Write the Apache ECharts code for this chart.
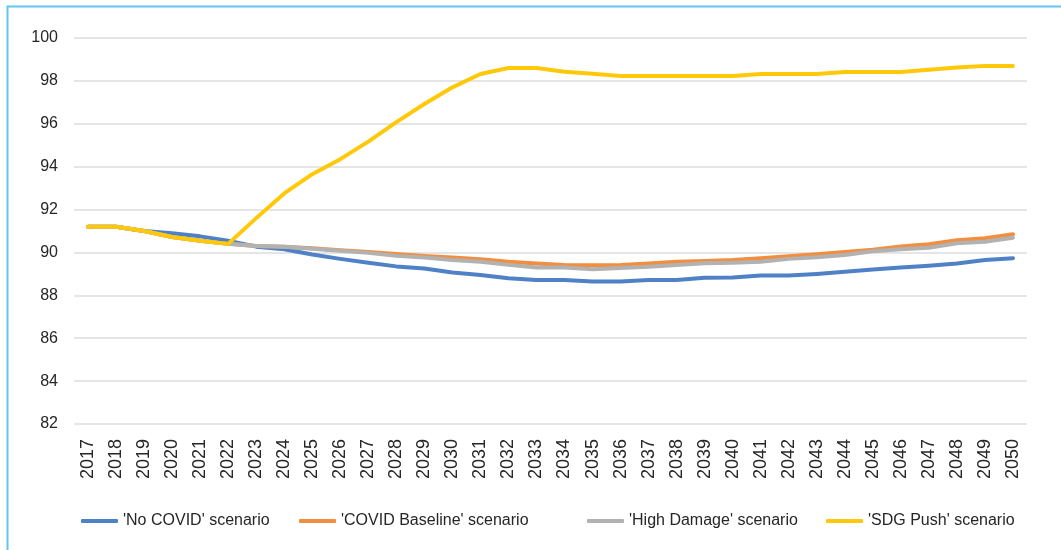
<!DOCTYPE html>
<html>
<head>
<meta charset="utf-8">
<script src="https://cdn.jsdelivr.net/npm/echarts@6/dist/echarts.min.js"></script>
<style>
  html, body { margin: 0; padding: 0; background: #fff; }
  #chart { width: 1061px; height: 550px; }
</style>
</head>
<body>
<div id="chart"></div>
<script>
var years = ['2017', '2018', '2019', '2020', '2021', '2022', '2023', '2024', '2025', '2026',
  '2027', '2028', '2029', '2030', '2031', '2032', '2033', '2034', '2035', '2036',
  '2037', '2038', '2039', '2040', '2041', '2042', '2043', '2044', '2045', '2046',
  '2047', '2048', '2049', '2050'];

var noCovid = [91.2, 91.2, 91.0, 90.9, 90.75, 90.55, 90.27, 90.15, 89.9, 89.7,
  89.52, 89.35, 89.25, 89.06, 88.95, 88.8, 88.72, 88.72, 88.64, 88.64,
  88.72, 88.72, 88.82, 88.83, 88.92, 88.92, 89.0, 89.1, 89.2, 89.3,
  89.38, 89.48, 89.65, 89.73];

var covidBaseline = [91.2, 91.2, 91.0, 90.72, 90.55, 90.4, 90.3, 90.27, 90.19, 90.1,
  90.02, 89.93, 89.84, 89.76, 89.68, 89.57, 89.49, 89.42, 89.4, 89.42,
  89.49, 89.57, 89.6, 89.65, 89.73, 89.82, 89.92, 90.02, 90.13, 90.28,
  90.38, 90.57, 90.66, 90.85];

var highDamage = [91.2, 91.2, 91.0, 90.72, 90.55, 90.4, 90.3, 90.27, 90.17, 90.08,
  89.98, 89.84, 89.76, 89.65, 89.57, 89.42, 89.3, 89.3, 89.22, 89.28,
  89.33, 89.42, 89.5, 89.52, 89.57, 89.7, 89.78, 89.88, 90.06, 90.15,
  90.22, 90.43, 90.5, 90.69];

var sdgPush = [91.2, 91.2, 91.0, 90.72, 90.55, 90.4, 91.6, 92.75, 93.65, 94.35,
  95.17, 96.08, 96.92, 97.7, 98.32, 98.6, 98.6, 98.43, 98.33, 98.23,
  98.23, 98.23, 98.23, 98.23, 98.32, 98.32, 98.32, 98.42, 98.42, 98.42,
  98.52, 98.62, 98.7, 98.7];

var names = ["'No COVID' scenario", "'COVID Baseline' scenario", "'High Damage' scenario", "'SDG Push' scenario"];
var colors = ['#4f81c7', '#f28e3f', '#b2b2b2', '#ffc90a'];
var seriesData = [noCovid, covidBaseline, highDamage, sdgPush];
var legendLeft = [81, 299, 587, 826];

var myChart = echarts.init(document.getElementById('chart'));

var option = {
  animation: false,
  color: colors,
  textStyle: { fontFamily: 'Liberation Sans, Arial, sans-serif' },
  graphic: [{
    type: 'rect',
    silent: true,
    shape: { x: 7.5, y: 6.5, width: 1100, height: 600 },
    style: { fill: 'none', stroke: '#63c6f0', lineWidth: 2 }
  }],
  grid: { left: 74, right: 34, top: 38, bottom: 126 },
  legend: names.map(function (n, i) {
    return {
      data: [n],
      left: legendLeft[i],
      top: 513,
      padding: 0,
      icon: 'roundRect',
      itemWidth: 37,
      itemHeight: 4,
      itemGap: 0,
      textStyle: { fontSize: 16, color: '#262626' }
    };
  }),
  xAxis: {
    type: 'category',
    data: years,
    boundaryGap: true,
    axisLine: { show: false },
    axisTick: { show: false },
    axisLabel: { rotate: 90, fontSize: 18, color: '#262626', margin: 15, interval: 0 }
  },
  yAxis: {
    type: 'value',
    min: 82,
    max: 100,
    interval: 2,
    axisLine: { show: false },
    axisTick: { show: false },
    axisLabel: { fontSize: 16, color: '#262626', margin: 16 },
    splitLine: { lineStyle: { color: '#dcdcdc', width: 1.5 } }
  },
  series: seriesData.map(function (d, i) {
    return {
      name: names[i],
      type: 'line',
      data: d,
      symbol: 'none',
      lineStyle: { width: 4, color: colors[i], cap: 'round', join: 'round' },
      z: 2 + i
    };
  })
};

myChart.setOption(option);
</script>
</body>
</html>
